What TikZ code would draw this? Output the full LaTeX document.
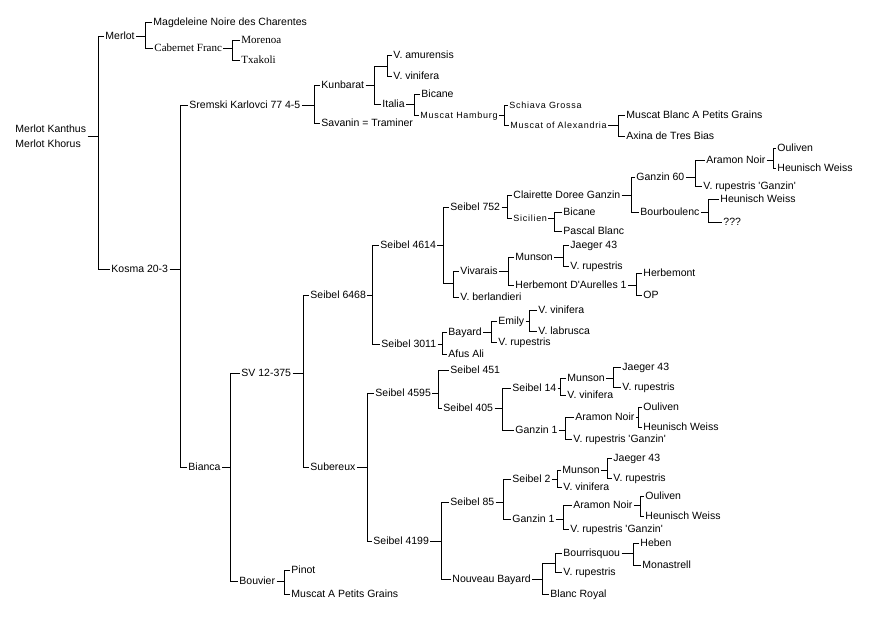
\documentclass[tikz,border=0pt]{standalone}
\usepackage{fontspec}
\setmainfont{Liberation Sans}
\newfontfamily\serifgrape{Liberation Serif}
\newfontfamily\smallgrape[LetterSpace=8]{Liberation Sans}
\tikzset{
    grape/.style={
        anchor=west,
        inner xsep=1pt,
        inner ysep=0pt,
        text height=9pt,
        text depth=2pt,
        font=\fontsize{10.5}{12}\selectfont
    },
    oldgrape/.style={grape, font=\fontsize{11}{12}\serifgrape},
    tinygrape/.style={grape, font=\fontsize{9}{10}\smallgrape},
    rootgrape/.style={anchor=west, inner sep=1pt, align=left, font=\fontsize{10.5}{15}\selectfont}
}

\begin{document}
\begin{tikzpicture}[x=1pt, y=-1pt, line width=0.9pt]
    \useasboundingbox (0,0) rectangle (873,618);
    % upper half
    \node[rootgrape] (kanthus) at (14,136) {Merlot Kanthus\\Merlot Khorus};
    \node[grape] (merlot) at (104,36) {Merlot};
    \node[grape] (magdeleine) at (152,22) {Magdeleine Noire des Charentes};
    \node[oldgrape] (cabfranc) at (153,48) {Cabernet Franc};
    \node[oldgrape] (morenoa) at (240,40) {Morenoa};
    \node[oldgrape] (txakoli) at (240,60) {Txakoli};
    \node[grape] (kosma) at (110,269) {Kosma 20-3};
    \node[grape] (sremski) at (188,105) {Sremski Karlovci 77 4-5};
    \node[grape] (kunbarat) at (320,85) {Kunbarat};
    \node[grape] (savanin) at (320,123) {Savanin = Traminer};
    \coordinate (amvi) at (387,66);
    \node[grape] (amurensis) at (392,55) {V. amurensis};
    \node[grape] (vinifA) at (392,76) {V. vinifera};
    \node[grape] (italia) at (381,104) {Italia};
    \node[grape] (bicaneA) at (420,94) {Bicane};
    \node[tinygrape] (hamburg) at (419,115) {Muscat Hamburg};
    \node[tinygrape] (schiava) at (508,105) {Schiava Grossa};
    \node[tinygrape] (alexandria) at (509,125) {Muscat of Alexandria};
    \node[grape] (blancpg) at (625,115) {Muscat Blanc A Petits Grains};
    \node[grape] (axina) at (625,136) {Axina de Tres Bias};
    % Bianca
    \node[grape] (bianca) at (187,467) {Bianca};
    \node[grape] (sv) at (240,373) {SV 12-375};
    \node[grape] (bouvier) at (238,581) {Bouvier};
    \node[grape] (pinot) at (290,570) {Pinot};
    \node[grape] (muscatpg) at (290,594) {Muscat A Petits Grains};
    \node[grape] (s6468) at (309,295) {Seibel 6468};
    \node[grape] (subereux) at (309,467) {Subereux};
    \node[grape] (s4614) at (379,245) {Seibel 4614};
    \node[grape] (s3011) at (380,344) {Seibel 3011};
    \node[grape] (s752) at (449,207) {Seibel 752};
    \node[grape] (clairette) at (512,195) {Clairette Doree Ganzin};
    \node[tinygrape] (sicilien) at (512,218) {Sicilien};
    \node[grape] (g60) at (635,177) {Ganzin 60};
    \node[grape] (bourboulenc) at (639,212) {Bourboulenc};
    \node[grape] (aramonA) at (705,160) {Aramon Noir};
    \node[grape] (rupganzA) at (702,186) {V. rupestris \textquotesingle Ganzin\textquotesingle};
    \node[grape] (oulivenA) at (776,148) {Ouliven};
    \node[grape] (heunischA) at (776,168) {Heunisch Weiss};
    \node[grape] (heunischB) at (719,199) {Heunisch Weiss};
    \node[grape] (unknown) at (722,222) {???};
    \node[grape] (bicaneB) at (562,212) {Bicane};
    \node[grape] (pascal) at (562,231) {Pascal Blanc};
    \coordinate (vibe) at (453,283);
    \node[grape] (vivarais) at (459,271) {Vivarais};
    \node[grape] (berlandieri) at (459,297) {V. berlandieri};
    \node[grape] (munsonA) at (514,257) {Munson};
    \node[grape] (herbemontda) at (514,285) {Herbemont D\textquotesingle Aurelles 1};
    \node[grape] (jaegerA) at (569,245) {Jaeger 43};
    \node[grape] (rupA) at (569,266) {V. rupestris};
    \node[grape] (herbemont) at (642,273) {Herbemont};
    \node[grape] (op) at (642,295) {OP};
    \node[grape] (bayard) at (447,332) {Bayard};
    \node[grape] (afus) at (447,354) {Afus Ali};
    \node[grape] (emily) at (497,321) {Emily};
    \node[grape] (rupB) at (497,342) {V. rupestris};
    \node[grape] (vinifB) at (537,310) {V. vinifera};
    \node[grape] (labrusca) at (537,331) {V. labrusca};
    % Subereux
    \node[grape] (s4595) at (374,393) {Seibel 4595};
    \node[grape] (s4199) at (372,541) {Seibel 4199};
    \node[grape] (s451) at (449,370) {Seibel 451};
    \node[grape] (s405) at (442,408) {Seibel 405};
    \node[grape] (s14) at (511,388) {Seibel 14};
    \node[grape] (ganzinA) at (514,430) {Ganzin 1};
    \node[grape] (munsonB) at (566,378) {Munson};
    \node[grape] (vinifC) at (566,395) {V. vinifera};
    \node[grape] (jaegerB) at (621,367) {Jaeger 43};
    \node[grape] (rupC) at (621,387) {V. rupestris};
    \node[grape] (aramonB) at (574,417) {Aramon Noir};
    \node[grape] (rupganzB) at (572,439) {V. rupestris \textquotesingle Ganzin\textquotesingle};
    \node[grape] (oulivenB) at (642,407) {Ouliven};
    \node[grape] (heunischC) at (642,427) {Heunisch Weiss};
    \node[grape] (s85) at (449,502) {Seibel 85};
    \node[grape] (nbayard) at (451,579) {Nouveau Bayard};
    \node[grape] (s2) at (511,479) {Seibel 2};
    \node[grape] (ganzinB) at (511,519) {Ganzin 1};
    \node[grape] (munsonC) at (561,470) {Munson};
    \node[grape] (vinifD) at (562,487) {V. vinifera};
    \node[grape] (jaegerC) at (612,458) {Jaeger 43};
    \node[grape] (rupD) at (612,478) {V. rupestris};
    \node[grape] (aramonC) at (572,505) {Aramon Noir};
    \node[grape] (rupganzC) at (569,529) {V. rupestris \textquotesingle Ganzin\textquotesingle};
    \node[grape] (oulivenC) at (644,496) {Ouliven};
    \node[grape] (heunischD) at (644,516) {Heunisch Weiss};
    \coordinate (bourup) at (555,563);
    \node[grape] (bourrisquou) at (562,553) {Bourrisquou};
    \node[grape] (rupE) at (562,572) {V. rupestris};
    \node[grape] (blancroyal) at (549,594) {Blanc Royal};
    \node[grape] (heben) at (639,543) {Heben};
    \node[grape] (monastrell) at (641,565) {Monastrell};

    % parent / bracket x / first parent / second parent
    \foreach \p/\x/\a/\b in {kanthus/98/merlot/kosma, merlot/145/magdeleine/cabfranc,
        cabfranc/232/morenoa/txakoli, kosma/180/sremski/bianca,
        sremski/314/kunbarat/savanin, kunbarat/374/amvi/italia,
        amvi/387/amurensis/vinifA, italia/414/bicaneA/hamburg,
        hamburg/504/schiava/alexandria, alexandria/618/blancpg/axina,
        bianca/230/sv/bouvier, bouvier/284/pinot/muscatpg,
        sv/303/s6468/subereux, s6468/372/s4614/s3011,
        s4614/443/s752/vibe, s752/507/clairette/sicilien,
        clairette/631/g60/bourboulenc, g60/695/aramonA/rupganzA,
        aramonA/773/oulivenA/heunischA, bourboulenc/708/heunischB/unknown,
        sicilien/554/bicaneB/pascal, vibe/453/vivarais/berlandieri,
        vivarais/508/munsonA/herbemontda, munsonA/563/jaegerA/rupA,
        herbemontda/636/herbemont/op, s3011/442/bayard/afus,
        bayard/491/emily/rupB, emily/529/vinifB/labrusca,
        subereux/367/s4595/s4199, s4595/438/s451/s405,
        s405/502/s14/ganzinA, s14/560/munsonB/vinifC,
        munsonB/613/jaegerB/rupC, ganzinA/565/aramonB/rupganzB,
        aramonB/638/oulivenB/heunischC, s4199/441/s85/nbayard,
        s85/503/s2/ganzinB, s2/557/munsonC/vinifD,
        munsonC/607/jaegerC/rupD, ganzinB/563/aramonC/rupganzC,
        aramonC/640/oulivenC/heunischD, nbayard/542/bourup/blancroyal,
        bourup/555/bourrisquou/rupE, bourrisquou/633/heben/monastrell}
    {
        \draw (\p) -- (\p-|\x,0);
        \draw (\a) -- (\a-|\x,0) -- (\b-|\x,0) -- (\b);
    }
\end{tikzpicture}
\end{document}
